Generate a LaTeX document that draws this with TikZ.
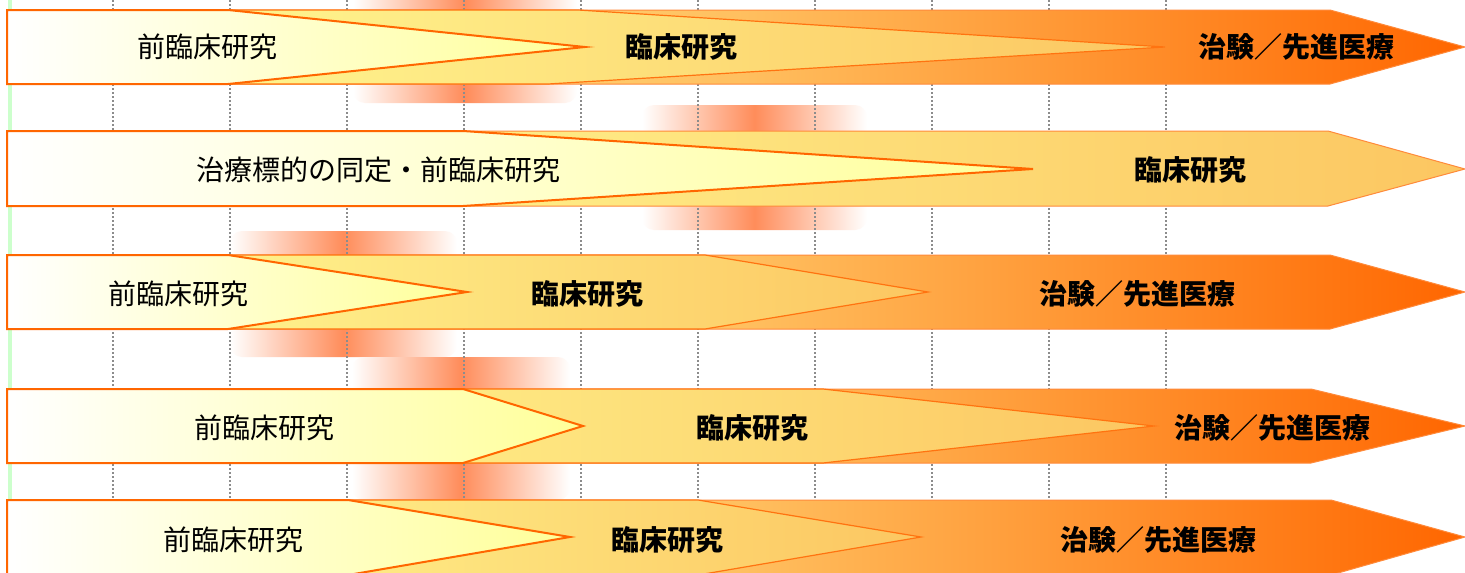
\documentclass[tikz,border=0pt]{standalone}
\usepackage{fontspec}
\setmainfont{Noto Sans CJK JP}
\definecolor{fy}{HTML}{FFFF99}
\definecolor{fo}{HTML}{FF6600}
\definecolor{my}{HTML}{FFFF99}
\definecolor{mr}{HTML}{FCC661}
\definecolor{mo}{HTML}{FF7310}
\definecolor{by}{HTML}{FFF59A}
\definecolor{bm}{HTML}{FFC060}
\definecolor{br}{HTML}{FF6600}
\definecolor{bo}{HTML}{FF8A3A}
\definecolor{bandc}{HTML}{FF8C5A}
\definecolor{gridc}{HTML}{8C8C8C}
\definecolor{greenc}{HTML}{CCFFCC}
\tikzset{
  frontarrow/.style={draw=fo, line width=2pt, left color=white, right color=fy},
  midarrow/.style={draw=mo, line width=1.2pt, left color=my, right color=mr},
  backarrow/.style={draw=bo, line width=1pt, left color=by, right color=br, middle color=bm},
  bandbox/.style={rounded corners=12pt, left color=white, right color=white, middle color=bandc},
  gridline/.style={draw=gridc, line width=1.8pt, dash pattern=on 2pt off 2pt},
  lbl/.style={inner sep=0pt, font=\fontsize{28}{30}\selectfont},
  blbl/.style={inner sep=0pt, font=\fontsize{28}{30}\selectfont\bfseries}
}
\begin{document}
\begin{tikzpicture}[x=1pt,y=-1pt]
\useasboundingbox (0,0) rectangle (1465,573);
\fill[white] (0,0) rectangle (1465,573);
% highlight bands
\shade[bandbox] (353,-16) rectangle (577,103);
\shade[bandbox] (642,105) rectangle (867,230);
\shade[bandbox] (230,231) rectangle (457,357);
\shade[bandbox] (352,357) rectangle (570,500);
% grid
\foreach \i in {0,...,9}{
  \draw[gridline] ({113+117*\i},0) -- ({113+117*\i},573);
}
\draw[greenc, line width=4pt] (9.5,0) -- (9.5,573);
% Row 1
\path[backarrow] (7,10) -- (1330,10) -- (1465,47) -- (1330,84) -- (7,84) -- cycle;
\path[midarrow] (7,10) -- (578,10) -- (1165,47) -- (548,84) -- (7,84) -- cycle;
\path[frontarrow] (7,10) -- (228,10) -- (585,47) -- (228,84) -- (7,84) -- cycle;
\node[lbl] (r1a) at (207,47) {前臨床研究};
\node[blbl] (r1b) at (681,47) {臨床研究};
\node[blbl] (r1c) at (1296,47) {治験／先進医療};
% Row 2
\path[midarrow, line width=1pt, draw=bo] (7,131) -- (1328,131) -- (1465,169) -- (1328,206) -- (7,206) -- cycle;
\path[frontarrow] (7,131) -- (463,131) -- (1033,169) -- (463,206) -- (7,206) -- cycle;
\node[lbl] (r2a) at (378,170) {治療標的の同定・前臨床研究};
\node[blbl] (r2b) at (1190,170) {臨床研究};
% Row 3
\path[backarrow] (7,255) -- (1330,255) -- (1465,292) -- (1330,329) -- (7,329) -- cycle;
\path[midarrow] (7,255) -- (705,255) -- (928,292) -- (705,329) -- (7,329) -- cycle;
\path[frontarrow] (7,255) -- (228,255) -- (467,292) -- (228,329) -- (7,329) -- cycle;
\node[lbl] (r3a) at (178,294) {前臨床研究};
\node[blbl] (r3b) at (587,294) {臨床研究};
\node[blbl] (r3c) at (1137,294) {治験／先進医療};
% Row 4
\path[backarrow] (7,389) -- (1311,389) -- (1465,426) -- (1311,463) -- (7,463) -- cycle;
\path[midarrow] (7,389) -- (823,389) -- (1154,426) -- (823,463) -- (7,463) -- cycle;
\path[frontarrow] (7,389) -- (463,389) -- (583,426) -- (463,463) -- (7,463) -- cycle;
\node[lbl] (r4a) at (264,428) {前臨床研究};
\node[blbl] (r4b) at (752,428) {臨床研究};
\node[blbl] (r4c) at (1272,428) {治験／先進医療};
% Row 5
\path[backarrow] (7,500) -- (1331,500) -- (1465,537) -- (1331,575) -- (7,575) -- cycle;
\path[midarrow] (7,500) -- (698,500) -- (921,537) -- (698,575) -- (7,575) -- cycle;
\path[frontarrow] (7,500) -- (348,500) -- (570,537) -- (348,575) -- (7,575) -- cycle;
\node[lbl] (r5a) at (233,540) {前臨床研究};
\node[blbl] (r5b) at (667,540) {臨床研究};
\node[blbl] (r5c) at (1158,540) {治験／先進医療};
\end{tikzpicture}
\end{document}
